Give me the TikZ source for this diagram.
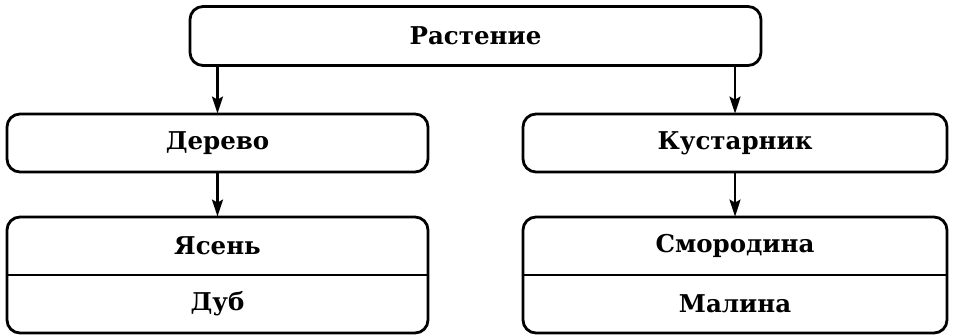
\documentclass[tikz,border=0pt]{standalone}
\usepackage{fontspec}
\setmainfont{DejaVu Serif}
\usetikzlibrary{arrows.meta}
\begin{document}
\begin{tikzpicture}[x=1pt,y=-1pt,
  box/.style={draw, line width=2.8pt, rounded corners=13pt, inner sep=0pt},
  lbl/.style={font=\bfseries\fontsize{24.5}{28}\selectfont, inner sep=0pt},
  arr/.style={line width=2.6pt, -{Stealth[length=17pt,width=11pt,inset=3pt]}, shorten >=-1pt}]
\useasboundingbox (0,0) rectangle (954,335);
% boxes
\node[box, minimum width=571pt, minimum height=59pt] (top) at (475.5,36) {};
\node[box, minimum width=421pt, minimum height=58pt] (tree) at (217.5,143) {};
\node[box, minimum width=424pt, minimum height=58pt] (bush) at (735,143) {};
\node[box, minimum width=421pt, minimum height=116pt] (tl) at (217.5,275) {};
\node[box, minimum width=424pt, minimum height=116pt] (bl) at (735,275) {};
\draw[line width=2.6pt] (tl.west) -- (tl.east);
\draw[line width=2.6pt] (bl.west) -- (bl.east);
% labels
\node[lbl] (t0) at (top.center) {Растение};
\node[lbl] (t1) at (tree.center) {Дерево};
\node[lbl] (t2) at (bush.center) {Кустарник};
\node[lbl] (t3) at (217.5,246) {Ясень};
\node[lbl] (t4) at (217.5,304) {Дуб};
\node[lbl] (t5) at (735,246) {Смородина};
\node[lbl] (t6) at (735,304) {Малина};
% arrows
\coordinate (a1) at (top.south -| tree.north);
\coordinate (a2) at (top.south -| bush.north);
\draw[arr] (a1) -- (tree.north);
\draw[arr] (tree.south) -- (tl.north);
\draw[arr] (bush.south) -- (bl.north);
\draw[arr] (a2) -- (bush.north);
\end{tikzpicture}
\end{document}
